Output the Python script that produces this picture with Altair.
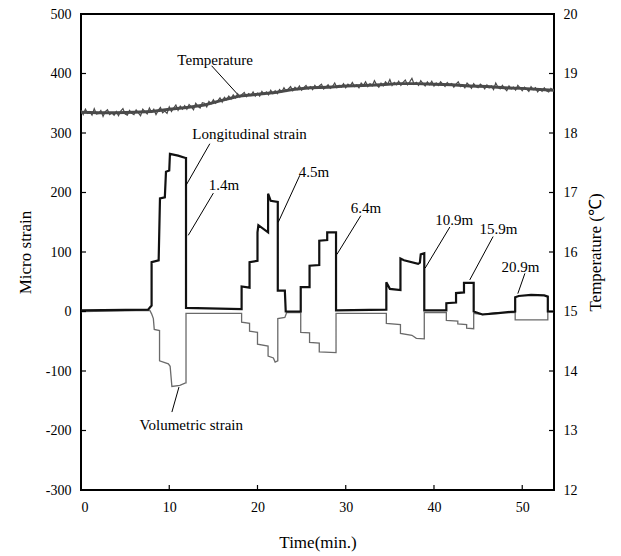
import altair as alt
import pandas as pd

# ---------------- data ----------------
# Longitudinal strain (micro strain), step breakpoints
long_t = [0, 7.6, 8.0, 8.0, 8.8, 8.95, 9.5, 9.63, 10.0, 10.08, 11.0, 11.85, 11.9, 11.9,
          18.2, 18.2, 19.1, 19.1, 20.0, 20.0, 20.1, 21.2, 21.2, 21.5, 22.3, 22.3, 23.1, 23.2,
          24.9, 24.9, 25.9, 25.9, 27.0, 27.0, 27.9, 27.9, 28.9, 28.9,
          34.6, 34.6, 35.0, 36.2, 36.2, 36.6, 38.2, 38.4, 38.5, 38.9, 38.9,
          41.4, 41.4, 42.5, 42.5, 43.4, 43.4, 44.5, 44.5, 45.5, 47.0,
          49.2, 49.2, 49.6, 51.0, 52.5, 52.9, 52.9, 53.6]
long_v = [2, 3, 10, 83, 86, 190, 192, 235, 237, 265, 262, 258, 258, 6,
          4, 42, 40, 83, 85, 133, 145, 133, 198, 186, 184, 35, 35, 0,
          0, 41, 41, 77, 78, 119, 120, 133, 133, 2,
          3, 49, 38, 36, 89, 86, 80, 82, 96, 98, 2,
          2, 14, 15, 31, 32, 48, 48, 0, -5, -3,
          0, 24, 26, 28, 27, 25, 0, 0]

# Volumetric strain (micro strain), step breakpoints
vol_t = [0, 7.8, 8.0, 8.2, 8.3, 8.9, 8.9, 9.9, 10.1, 10.3, 11.2, 11.85, 11.9, 11.9,
         18.2, 18.2, 19.1, 19.1, 20.0, 20.0, 21.2, 21.2, 21.8, 22.0, 22.3, 22.3, 23.1, 23.3,
         24.9, 24.9, 25.9, 25.9, 27.0, 27.0, 28.9, 28.9,
         34.6, 34.6, 36.2, 36.2, 37.5, 38.0, 38.9, 38.9,
         41.4, 41.4, 42.7, 42.7, 43.7, 43.7, 44.5, 44.5, 45.5, 47.0,
         49.2, 49.2, 52.9, 52.9, 53.6]
vol_v = [0, 2, -4, -12, -30, -32, -83, -88, -92, -126, -124, -120, -120, -3,
         -3, -18, -20, -33, -35, -55, -58, -75, -78, -85, -83, -12, -10, -2,
         -2, -35, -36, -52, -53, -68, -69, -3,
         -3, -20, -22, -37, -40, -45, -46, -2,
         -2, -15, -16, -21, -22, -28, -29, -3, -5, -2,
         -2, -14, -14, 0, 0]

# Temperature (deg C), one reading every 0.25 min from t = 0
temp_step = 0.25
temp_v = [
    18.38, 18.31, 18.40, 18.33, 18.36, 18.30, 18.41, 18.32,
    18.33, 18.38, 18.28, 18.36, 18.39, 18.31, 18.34, 18.30,
    18.36, 18.29, 18.37, 18.41, 18.32, 18.30, 18.38, 18.33,
    18.31, 18.39, 18.34, 18.29, 18.40, 18.36, 18.32, 18.42,
    18.35, 18.40, 18.31, 18.38, 18.43, 18.34, 18.37, 18.33,
    18.44, 18.36, 18.42, 18.47, 18.38, 18.45, 18.40, 18.46,
    18.40, 18.48, 18.44, 18.39, 18.50, 18.45, 18.42, 18.51,
    18.50, 18.44, 18.53, 18.49, 18.56, 18.50, 18.54, 18.59,
    18.52, 18.60, 18.56, 18.62, 18.57, 18.64, 18.59, 18.66,
    18.60, 18.65, 18.68, 18.61, 18.66, 18.63, 18.69, 18.62,
    18.67, 18.62, 18.70, 18.65, 18.69, 18.64, 18.72, 18.66,
    18.71, 18.66, 18.73, 18.69, 18.76, 18.70, 18.74, 18.78,
    18.71, 18.77, 18.73, 18.79, 18.72, 18.76, 18.80, 18.74,
    18.78, 18.73, 18.80, 18.75, 18.79, 18.82, 18.74, 18.77,
    18.81, 18.75, 18.78, 18.84, 18.76, 18.80, 18.77, 18.83,
    18.76, 18.82, 18.79, 18.85, 18.78, 18.81, 18.76, 18.84,
    18.80, 18.86, 18.78, 18.83, 18.79, 18.88, 18.81, 18.77,
    18.84, 18.79, 18.86, 18.82, 18.90, 18.80, 18.85, 18.81,
    18.87, 18.80, 18.85, 18.89, 18.81, 18.86, 18.92, 18.82,
    18.85, 18.80, 18.88, 18.83, 18.79, 18.86, 18.81, 18.87,
    18.79, 18.84, 18.80, 18.86, 18.82, 18.78, 18.85, 18.81,
    18.83, 18.77, 18.82, 18.86, 18.78, 18.81, 18.76, 18.84,
    18.80, 18.75, 18.83, 18.78, 18.76, 18.82, 18.79, 18.74,
    18.81, 18.76, 18.79, 18.73, 18.84, 18.77, 18.74, 18.80,
    18.75, 18.71, 18.79, 18.74, 18.77, 18.72, 18.80, 18.76,
    18.71, 18.77, 18.74, 18.70, 18.78, 18.73, 18.76, 18.69,
    18.74, 18.70, 18.76, 18.71, 18.69, 18.75, 18.72,
]

# Temperature noise envelope core (deg C), read every 2 min
band_t = [0, 2, 4, 6, 8, 10, 12, 14, 16, 18, 20, 22, 24, 26, 28, 30,
          32, 34, 36, 38, 40, 42, 44, 46, 48, 50, 52, 53.6]
band_lo = [18.325, 18.315, 18.315, 18.325, 18.335, 18.375, 18.405, 18.445, 18.525, 18.595,
           18.625, 18.655, 18.705, 18.735, 18.745, 18.765, 18.775, 18.785, 18.805, 18.805,
           18.795, 18.785, 18.765, 18.755, 18.735, 18.725, 18.705, 18.695]
band_hi = [18.375, 18.365, 18.365, 18.375, 18.385, 18.425, 18.455, 18.495, 18.575, 18.645,
           18.675, 18.705, 18.755, 18.785, 18.795, 18.815, 18.825, 18.835, 18.855, 18.855,
           18.845, 18.835, 18.815, 18.805, 18.785, 18.775, 18.755, 18.745]

# annotations (label, text x, text y in micro strain)
ann_text = ["Temperature", "Longitudinal strain", "1.4m", "4.5m", "6.4m",
            "10.9m", "15.9m", "20.9m", "Volumetric strain"]
ann_x = [15.2, 19.1, 16.2, 26.4, 32.3, 42.3, 47.3, 49.8, 12.5]
ann_y = [423, 299, 212, 234, 174, 153, 138, 74, -190]
# leader lines (from, to)
lead_x1 = [14.8, 14.6, 15.0, 24.8, 31.7, 41.8, 46.7, 50.3, 10.3]
lead_y1 = [413, 282, 199, 229, 161, 142, 126, 64, -169]
lead_x2 = [18.0, 11.9, 12.15, 22.35, 29.0, 39.0, 44.05, 49.5, 11.1]
lead_y2 = [361, 212, 128, 150, 96, 73, 53, 30, -127]

x_ticks = [0, 10, 20, 30, 40, 50]
strain_ticks = [-300, -200, -100, 0, 100, 200, 300, 400, 500]
temp_ticks = [12, 13, 14, 15, 16, 17, 18, 19, 20]

# ---------------- frames ----------------
df_long = pd.DataFrame({"t": long_t, "v": long_v, "i": range(len(long_t))})
df_vol = pd.DataFrame({"t": vol_t, "v": vol_v, "i": range(len(vol_t))})
df_temp = pd.DataFrame({"t": [k * temp_step for k in range(len(temp_v))], "T": temp_v})
df_band = pd.DataFrame({"t": band_t, "T": band_lo, "T2": band_hi})
df_ann = pd.DataFrame({"label": ann_text, "t": ann_x, "v": ann_y})
df_lead = pd.DataFrame({"t": lead_x1, "v": lead_y1, "t2": lead_x2, "v2": lead_y2})
df_yt = pd.DataFrame({"v": strain_ticks})
df_xt = pd.DataFrame({"t": x_ticks})

W, H = 473, 476
FONT = "Liberation Serif"
XMAX = 53.6
LBL = "'' + datum.value"

xscale = alt.Scale(domain=[0, XMAX], nice=False, zero=False)
yscale = alt.Scale(domain=[-300, 500], nice=False, zero=False)
tscale = alt.Scale(domain=[12, 20], nice=False, zero=False)
xaxis = alt.Axis(values=x_ticks, title="Time(min.)", ticks=False, domain=False, grid=False,
                 labelPadding=10, titlePadding=20, labelExpr=LBL)
yaxis = alt.Axis(values=strain_ticks, title="Micro strain", ticks=False, domain=False, grid=False,
                 labelPadding=10, titlePadding=11, labelExpr=LBL)
taxis = alt.Axis(orient="right", values=temp_ticks, title="Temperature (℃)",
                 ticks=False, domain=False, grid=False, labelPadding=9,
                 titlePadding=27, titleAngle=270, labelExpr=LBL)

X = alt.X("t:Q", scale=xscale, axis=xaxis)
Y = alt.Y("v:Q", scale=yscale, axis=yaxis)
YT = alt.Y("T:Q", scale=tscale, axis=taxis)

vol = alt.Chart(df_vol).mark_line(color="#6a6a6a", strokeWidth=1.3).encode(
    x=X, y=Y, order="i:Q")
lon = alt.Chart(df_long).mark_line(color="#111111", strokeWidth=2.2).encode(
    x=X, y=Y, order="i:Q")
leads = alt.Chart(df_lead).mark_rule(color="black", strokeWidth=1).encode(
    x=X, y=Y, x2="t2:Q", y2="v2:Q")
texts = alt.Chart(df_ann).mark_text(font=FONT, fontSize=15, color="black").encode(
    x=X, y=Y, text="label:N")
# inward ticks
lt = alt.Chart(df_yt).mark_rule(color="black", strokeWidth=1.2).encode(
    y=Y, x=alt.value(0), x2=alt.value(5))
rt = alt.Chart(df_yt).mark_rule(color="black", strokeWidth=1.2).encode(
    y=Y, x=alt.value(W - 5), x2=alt.value(W))
bt = alt.Chart(df_xt).mark_rule(color="black", strokeWidth=1.2).encode(
    x=X, y=alt.value(H - 5), y2=alt.value(H))

left = alt.layer(vol, lon, leads, texts, lt, rt, bt)

band = alt.Chart(df_band).mark_area(color="#4a4a4a", opacity=1).encode(
    x=X, y=YT, y2="T2:Q")
temp = alt.Chart(df_temp).mark_line(color="#4a4a4a", strokeWidth=1.2).encode(
    x=X, y=YT)
right = alt.layer(band, temp)

chart = alt.layer(left, right).resolve_scale(y="independent").properties(
    width=W, height=H,
    padding={"left": 73, "top": 6, "right": 55, "bottom": 62},
    autosize=alt.AutoSizeParams(type="none"),
).configure_view(stroke="black", strokeWidth=2).configure_axis(
    labelFont=FONT, labelFontSize=14, labelColor="black",
    titleFont=FONT, titleFontSize=17, titleFontWeight="normal", titleColor="black",
)

chart.save("out.html", embed_options={"renderer": "svg", "actions": False})
